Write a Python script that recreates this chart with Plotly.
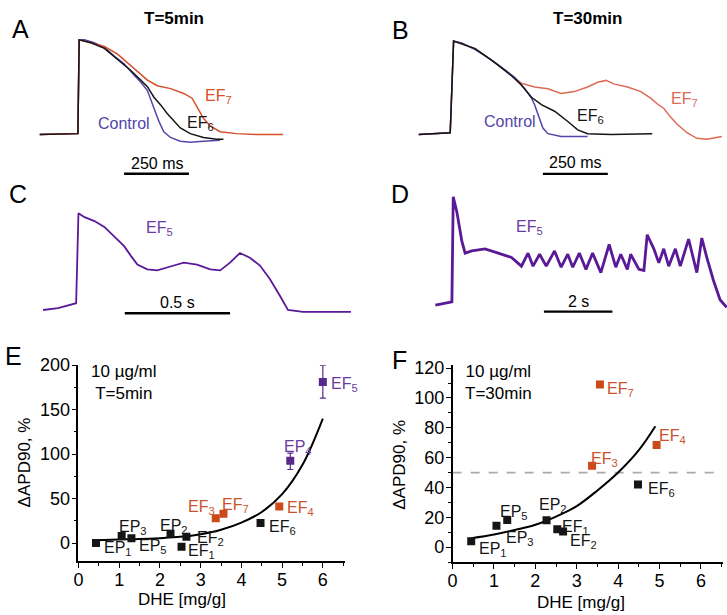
import plotly.graph_objects as go

# ---------------- DATA ----------------
# Panel A (T=5min): time (ms), normalized amplitude
a_ctrl_t = [0, 147, 152, 172, 210, 249, 287, 325, 364, 389, 415, 440, 459, 478, 504, 542, 580, 631, 695]
a_ctrl_v = [0, 0.01, 0.99, 0.99, 0.96, 0.91, 0.82, 0.74, 0.62, 0.55, 0.46, 0.27, 0.14, 0.03, -0.03, -0.07, -0.08, -0.07, -0.06]
a_ef6_t = [0, 147, 152, 198, 249, 300, 351, 389, 415, 440, 466, 491, 517, 542, 580, 631, 682, 708]
a_ef6_v = [0, 0.01, 0.99, 0.96, 0.90, 0.79, 0.67, 0.57, 0.50, 0.39, 0.31, 0.22, 0.14, 0.07, 0.01, -0.03, -0.05, -0.05]
a_ef7_t = [0, 147, 152, 198, 249, 300, 338, 376, 415, 453, 504, 555, 587, 606, 631, 657, 695, 759, 835, 938]
a_ef7_v = [0, 0.01, 0.99, 0.96, 0.92, 0.84, 0.75, 0.67, 0.57, 0.51, 0.48, 0.43, 0.38, 0.29, 0.17, 0.09, 0.03, 0.01, 0, 0]

# Panel B (T=30min)
b_ctrl_t = [0, 121, 134, 166, 217, 268, 319, 370, 408, 434, 446, 459, 478, 497, 548, 650]
b_ctrl_v = [0, 0.02, 1.0, 0.98, 0.91, 0.82, 0.72, 0.61, 0.49, 0.39, 0.32, 0.21, 0.07, 0.01, -0.02, -0.02]
b_ef6_t = [0, 121, 134, 217, 293, 357, 395, 434, 472, 523, 574, 612, 650, 740, 899]
b_ef6_v = [0, 0.02, 1.0, 0.92, 0.77, 0.63, 0.53, 0.40, 0.32, 0.25, 0.14, 0.05, 0.01, 0, 0.01]
b_ef7_t = [0, 121, 134, 217, 293, 357, 395, 446, 497, 548, 599, 650, 689, 721, 753, 804, 855, 893, 918, 944, 969, 995, 1033, 1071, 1110, 1167]
b_ef7_v = [0, 0.02, 1.0, 0.92, 0.77, 0.63, 0.55, 0.51, 0.49, 0.44, 0.46, 0.51, 0.56, 0.58, 0.54, 0.51, 0.46, 0.39, 0.33, 0.28, 0.19, 0.11, 0.02, -0.04, -0.05, -0.02]

# Panel C (EF5, 0.5 s scale)
c_t = [0, 71, 157, 168, 197, 244, 291, 338, 385, 417, 448, 495, 542, 605, 668, 731, 794, 841, 888, 935, 982, 1030, 1077, 1124, 1163, 1234, 1328, 1462]
c_v = [0, 0.02, 0.07, 1.0, 0.96, 0.92, 0.86, 0.76, 0.66, 0.56, 0.47, 0.42, 0.41, 0.45, 0.49, 0.47, 0.42, 0.41, 0.49, 0.59, 0.54, 0.46, 0.32, 0.15, 0, -0.02, -0.02, -0.02]

# Panel D (EF5, 2 s scale)
d_t = [0, 290, 483, 522, 628, 773, 869, 1063, 1449, 1835, 2222, 2512, 2705, 2850, 3043, 3236, 3478, 3671, 3864, 4009,
       4202, 4395, 4589, 4830, 5072, 5265, 5410, 5603, 5699, 5941, 6086, 6182, 6376, 6521, 6665, 6810, 7004, 7148,
       7390, 7631, 7776, 7921, 8114, 8308, 8501]
d_v = [0, 0.02, 0.03, 1.0, 0.86, 0.59, 0.48, 0.50, 0.52, 0.48, 0.44, 0.36, 0.48, 0.36, 0.47, 0.36, 0.50, 0.35, 0.47, 0.35,
       0.48, 0.33, 0.48, 0.30, 0.56, 0.35, 0.47, 0.33, 0.47, 0.33, 0.32, 0.65, 0.52, 0.39, 0.52, 0.36, 0.52, 0.36,
       0.61, 0.30, 0.62, 0.44, 0.23, 0.05, -0.02]

# Panel E (T=5min): DHE [mg/g] vs dAPD90 %
e_black_names = ["EP1", "EP3", "EP5", "EP2", "EF2", "EF1", "EF6"]
e_black_x = [0.43, 1.06, 1.30, 2.26, 2.65, 2.53, 4.47]
e_black_y = [0, 8, 5.5, 10.6, 7, -4, 22.7]
e_orange_names = ["EF3", "EF7", "EF4"]
e_orange_x = [3.37, 3.56, 4.93]
e_orange_y = [28, 33, 41]
e_purple_names = ["EP4", "EF5"]
e_purple_x = [5.2, 6.0]
e_purple_y = [92.5, 181]
e_purple_err_plus = [8.6, 18.6]
e_purple_err_minus = [9.8, 18]
e_fit_x = [0.43, 1.0, 1.5, 2.0, 2.5, 3.0, 3.5, 4.0, 4.5, 5.0, 5.5, 6.0]
e_fit_y = [3.3, 4.0, 4.5, 5.5, 7.0, 10.0, 15.0, 23.0, 35.0, 55.0, 88.0, 140.0]

# Panel F (T=30min)
f_black_names = ["EP1", "EP3", "EP5", "EP2", "EF1", "EF2", "EF6"]
f_black_x = [0.45, 1.06, 1.32, 2.27, 2.53, 2.67, 4.48]
f_black_y = [4, 14.3, 18.2, 18, 12, 10.5, 42]
f_orange_names = ["EF3", "EF7", "EF4"]
f_orange_x = [3.37, 3.56, 4.93]
f_orange_y = [54.5, 109, 68.4]
f_fit_x = [0.45, 1.0, 1.5, 2.0, 2.5, 3.0, 3.5, 4.0, 4.5, 4.9]
f_fit_y = [6, 8.5, 11.5, 15, 20.5, 27.5, 38, 50, 65, 81]
f_threshold = 50

# scale bars
a_bar_ms = 250
c_bar_ms = 500
d_bar_ms = 2000

# ---------------- STYLE / LAYOUT ----------------
W, H = 727, 615
FONT = "Liberation Sans, Arial, sans-serif"
C_CTRL = "#5246a8"
C_BLACK = "#151515"
C_RED_A = "#d5502a"
C_RED_B = "#dc6a55"
C_PURP = "#5a1a98"
C_ORANGE = "#cc4a1a"
C_ORANGE_T = "#c9532e"
C_PURP_SQ = "#58288c"
C_PURP_T = "#6a3a9e"


def dom_x(l, r):
    return [l / W, r / W]


def dom_y(t, b):
    return [1 - b / H, 1 - t / H]


fig = go.Figure()

panels = {
    # name: (axis idx, px box (l, r, t, b), xrange, yrange, visible)
    "A": (1, (30, 290, 20, 175), [-19, 976], [-0.497, 1.096], False),
    "B": (2, (410, 727, 20, 175), [-25.5, 1187], [-0.509, 1.123], False),
    "C": (3, (30, 360, 195, 320), [-39.3, 1517], [-0.153, 1.119], False),
    "D": (4, (430, 727, 185, 310), [-96.6, 8511], [-0.091, 1.045], False),
    "E": (5, (74, 342.6, 361, 560), [0, 6.55], [-20, 200], True),
    "F": (6, (450.7, 723, 361, 561.2), [0, 6.535], [-10, 122], True),
}

layout_axes = {}
for name, (i, (l, r, t, b), xr, yr, vis) in panels.items():
    xk = "xaxis" if i == 1 else f"xaxis{i}"
    yk = "yaxis" if i == 1 else f"yaxis{i}"
    xa = dict(domain=dom_x(l, r), range=xr, anchor=f"y{i}" if i > 1 else "y",
              showgrid=False, zeroline=False, fixedrange=True)
    ya = dict(domain=dom_y(t, b), range=yr, anchor=f"x{i}" if i > 1 else "x",
              showgrid=False, zeroline=False, fixedrange=True)
    if not vis:
        xa.update(visible=False)
        ya.update(visible=False)
    layout_axes[xk] = xa
    layout_axes[yk] = ya

axis_common = dict(showline=True, linecolor="black", linewidth=1.6, ticks="outside",
                   ticklen=5, tickwidth=1.4, tickcolor="black",
                   tickfont=dict(family=FONT, size=18, color="black"))
minor_common = dict(ticks="outside", ticklen=3, tickcolor="black", tickwidth=1.2)
layout_axes["xaxis5"].update(axis_common, dtick=1, tick0=0, ticklabelstandoff=-3,
                             minor=dict(minor_common, dtick=0.5))
layout_axes["yaxis5"].update(axis_common, dtick=50, tick0=0, ticklabelstandoff=-2,
                             minor=dict(minor_common, dtick=25))
layout_axes["xaxis6"].update(axis_common, dtick=1, tick0=0, ticklabelstandoff=-3,
                             minor=dict(minor_common, dtick=0.5))
layout_axes["yaxis6"].update(axis_common, dtick=20, tick0=0, ticklabelstandoff=-2,
                             minor=dict(minor_common, dtick=10))


def line(x, y, color, width, ax, dash=None, shape="linear"):
    fig.add_trace(go.Scatter(x=x, y=y, mode="lines", line=dict(color=color, width=width, dash=dash, shape=shape),
                             xaxis=f"x{ax}" if ax > 1 else "x", yaxis=f"y{ax}" if ax > 1 else "y",
                             hoverinfo="skip", showlegend=False))


# Panel A traces
line(a_ctrl_t, a_ctrl_v, C_CTRL, 1.5, 1)
line(a_ef7_t, a_ef7_v, C_RED_A, 1.5, 1)
line(a_ef6_t, a_ef6_v, C_BLACK, 1.5, 1)
# Panel B traces
line(b_ef7_t, b_ef7_v, C_RED_B, 1.5, 2)
line(b_ctrl_t, b_ctrl_v, C_CTRL, 1.5, 2)
line(b_ef6_t, b_ef6_v, C_BLACK, 1.5, 2)
# Panel C, D
line(c_t, c_v, C_PURP, 1.8, 3)
line(d_t, d_v, C_PURP, 2.8, 4)

# scale bars
A_BAR0, B_BAR0, C_BAR0, D_BAR0 = 325, 478, 388, 3168
line([A_BAR0, A_BAR0 + a_bar_ms], [-0.41, -0.41], "black", 2.4, 1)
line([B_BAR0, B_BAR0 + a_bar_ms], [-0.42, -0.42], "black", 2.4, 2)
line([C_BAR0, C_BAR0 + c_bar_ms], [-0.034, -0.034], "black", 2.4, 3)
line([D_BAR0, D_BAR0 + d_bar_ms], [-0.06, -0.06], "black", 2.4, 4)

# Panel E
line(e_fit_x, e_fit_y, "black", 2, 5, shape="spline")
fig.add_trace(go.Scatter(x=e_black_x, y=e_black_y, mode="markers", xaxis="x5", yaxis="y5",
                         marker=dict(symbol="square", size=8, color=C_BLACK), showlegend=False))
fig.add_trace(go.Scatter(x=e_orange_x, y=e_orange_y, mode="markers", xaxis="x5", yaxis="y5",
                         marker=dict(symbol="square", size=8, color=C_ORANGE), showlegend=False))
fig.add_trace(go.Scatter(x=e_purple_x, y=e_purple_y, mode="markers", xaxis="x5", yaxis="y5",
                         marker=dict(symbol="square", size=8, color=C_PURP_SQ),
                         error_y=dict(type="data", array=e_purple_err_plus, arrayminus=e_purple_err_minus,
                                      color=C_PURP_SQ, thickness=1.2, width=3),
                         showlegend=False))

# Panel F
line([0, 6.5], [f_threshold, f_threshold], "#aaaaaa", 1.8, 6, dash="dash")
line(f_fit_x, f_fit_y, "black", 2, 6, shape="spline")
fig.add_trace(go.Scatter(x=f_black_x, y=f_black_y, mode="markers", xaxis="x6", yaxis="y6",
                         marker=dict(symbol="square", size=8, color=C_BLACK), showlegend=False))
fig.add_trace(go.Scatter(x=f_orange_x, y=f_orange_y, mode="markers", xaxis="x6", yaxis="y6",
                         marker=dict(symbol="square", size=8, color=C_ORANGE), showlegend=False))

ann = []


def txt(text, x, y, xref, yref, size=16, color="black", xanchor="left", yanchor="middle", bold=False, angle=0):
    if bold:
        text = f"<b>{text}</b>"
    ann.append(dict(text=text, x=x, y=y, xref=xref, yref=yref, showarrow=False, xanchor=xanchor, yanchor=yanchor,
                    font=dict(family=FONT, size=size, color=color), textangle=angle))


def ptxt(text, xpx, ypx, **kw):
    txt(text, xpx / W, 1 - ypx / H, "paper", "paper", **kw)


def sub(name):
    return f"{name[:2]}<sub>{name[2:]}</sub>"


# Panel letters and titles
for letter, (xp, yp) in {"A": (16, 19), "B": (398, 20), "C": (13, 187), "D": (398, 187),
                         "E": (9, 352), "F": (397, 356)}.items():
    ptxt(letter, xp, yp, size=25, xanchor="center")
ptxt("T=5min", 170, 9, size=17, xanchor="center", bold=True)
ptxt("T=30min", 587, 9, size=17, xanchor="center", bold=True)

# Trace labels
txt("Control", 325, 0.12, "x", "y", color=C_CTRL, xanchor="center")
txt(sub("EF6"), 558, 0.12, "x", "y", color=C_BLACK)
txt(sub("EF7"), 628, 0.40, "x", "y", color=C_RED_A)
txt("250 ms", A_BAR0 + a_bar_ms / 2, -0.30, "x", "y", xanchor="center")

txt("Control", 351, 0.14, "x2", "y2", color=C_CTRL, xanchor="center")
txt(sub("EF6"), 600, 0.19, "x2", "y2", color=C_BLACK)
txt(sub("EF7"), 962, 0.38, "x2", "y2", color=C_RED_B)
txt("250 ms", B_BAR0 + a_bar_ms / 2, -0.30, "x2", "y2", xanchor="center")

txt(sub("EF5"), 480, 0.84, "x3", "y3", color=C_PURP_T)
txt("0.5 s", C_BAR0 + c_bar_ms / 2, 0.075, "x3", "y3", xanchor="center")
txt(sub("EF5"), 2300, 0.72, "x4", "y4", color=C_PURP_T)
txt("2 s", D_BAR0 + d_bar_ms / 2, 0.03, "x4", "y4", xanchor="center")

# Panel E labels
e_label_pos = {"EP1": (0.57, -6.6), "EP3": (0.94, 17), "EP5": (1.43, -4), "EP2": (1.96, 19), "EF2": (2.86, 5),
               "EF1": (2.65, -9), "EF6": (4.62, 18), "EF3": (2.63, 40), "EF7": (3.48, 42), "EF4": (5.07, 39),
               "EP4": (5.0, 107), "EF5": (6.16, 178)}
for names, col in ((e_black_names, C_BLACK), (e_orange_names, C_ORANGE_T), (e_purple_names, C_PURP_T)):
    for n in names:
        x, y = e_label_pos[n]
        txt(sub(n), x, y, "x5", "y5", color=col)
txt("10 µg/ml<br>T=5min", 0.27, 181, "x5", "y5", size=17)

f_label_pos = {"EP1": (0.58, -1.5), "EP3": (1.25, 6), "EP5": (1.10, 23), "EP2": (2.05, 28), "EF1": (2.6, 13.5),
               "EF2": (2.78, 3.5), "EF6": (4.68, 38.5), "EF3": (3.29, 58.5), "EF7": (3.69, 105.5),
               "EF4": (4.93, 74.5)}
for names, col in ((f_black_names, C_BLACK), (f_orange_names, C_ORANGE_T)):
    for n in names:
        x, y = f_label_pos[n]
        txt(sub(n), x, y, "x6", "y6", color=col)
txt("10 µg/ml<br>T=30min", 0.26, 110.5, "x6", "y6", size=17)

# axis titles
ptxt("DHE [mg/g]", 178, 599, size=17, xanchor="center")
ptxt("DHE [mg/g]", 580, 602, size=17, xanchor="center")
ptxt("ΔAPD90, %", 20, 460, size=17, xanchor="center", angle=-90)
ptxt("ΔAPD90, %", 397, 462, size=17, xanchor="center", angle=-90)

fig.update_layout(width=W, height=H, margin=dict(l=0, r=0, t=0, b=0), paper_bgcolor="white",
                  plot_bgcolor="rgba(0,0,0,0)", annotations=ann, showlegend=False,
                  font=dict(family=FONT, size=16, color="black"), **layout_axes)

fig.write_html("out.html", config={"displayModeBar": False},
               post_script="document.body.style.margin='0px';document.body.style.overflow='hidden';")
